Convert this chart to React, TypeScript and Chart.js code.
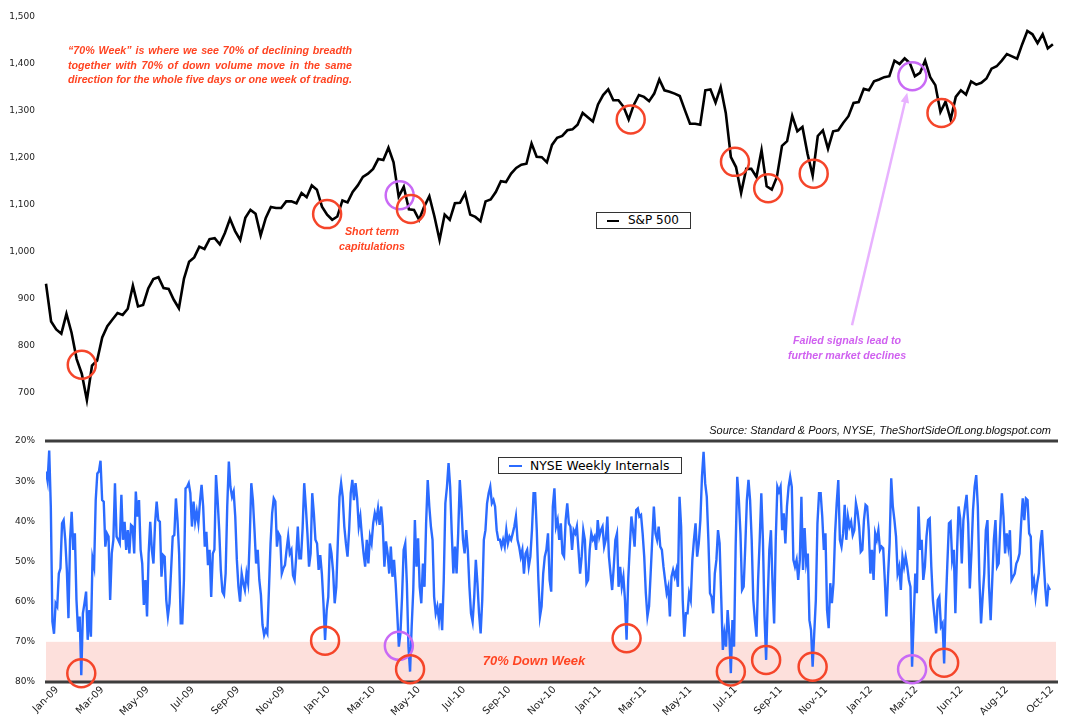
import React, { useEffect, useRef } from "react";
import { Chart, registerables } from "chart.js";

Chart.register(...registerables);

// ---------- DATA ----------
// S&P 500 weekly closes, Jan-09 .. Oct-12
const SP500 = [
  932, 852, 835, 826, 868, 828, 772, 741, 685, 758,
  769, 818, 842, 856, 870, 866, 879, 928, 884, 887,
  922, 942, 946, 923, 921, 898, 880, 943, 979, 988,
  1011, 1006, 1027, 1029, 1016, 1040, 1070, 1044, 1025, 1072,
  1089, 1081, 1035, 1072, 1095, 1093, 1093, 1107, 1107, 1103,
  1125, 1116, 1141, 1132, 1096, 1079, 1068, 1075, 1109, 1105,
  1127, 1141, 1159, 1166, 1176, 1197, 1195, 1221, 1190, 1117,
  1138, 1090, 1089, 1068, 1096, 1118, 1075, 1025, 1079, 1068,
  1103, 1104, 1124, 1079, 1074, 1065, 1107, 1111, 1127, 1150,
  1148, 1166, 1178, 1185, 1187, 1230, 1202, 1201, 1190, 1227,
  1242, 1246, 1258, 1260, 1270, 1295, 1286, 1277, 1313, 1333,
  1345, 1322, 1322, 1308, 1281, 1312, 1333, 1329, 1320, 1336,
  1366, 1343, 1340, 1336, 1331, 1301, 1272, 1272, 1270, 1343,
  1345, 1317, 1350, 1295, 1201, 1180, 1125, 1176, 1176, 1159,
  1216, 1139, 1132, 1159, 1225, 1235, 1289, 1256, 1265, 1208,
  1162, 1246, 1258, 1219, 1256, 1258, 1274, 1288, 1316, 1318,
  1346, 1343, 1362, 1366, 1371, 1373, 1406, 1399, 1411, 1401,
  1373, 1380, 1406, 1371, 1354, 1297, 1319, 1281, 1329, 1343,
  1334, 1362, 1355, 1359, 1368, 1389, 1394, 1406, 1420, 1415,
  1410, 1441, 1469, 1462, 1443, 1462, 1432, 1441,
];

// NYSE weekly internals (% declining), Jan-09 .. Oct-12
const NYSE = [
  27.6, 30.0, 22.4, 36.3, 65.0, 68.0, 60.4, 61.2, 53.0, 51.7,
  40.5, 39.7, 44.6, 52.1, 64.1, 44.6, 37.6, 47.1, 43.0, 59.6,
  67.5, 63.7, 78.3, 62.9, 60.4, 57.5, 69.5, 62.1, 68.7, 49.2,
  51.3, 34.7, 28.1, 27.6, 24.9, 34.7, 35.1, 46.3, 43.0, 43.8,
  59.6, 48.0, 44.6, 30.5, 43.8, 44.6, 45.5, 33.4, 44.6, 40.1,
  47.1, 42.2, 48.0, 40.9, 41.3, 48.0, 32.6, 38.8, 34.7, 47.1,
  50.5, 60.8, 54.6, 63.7, 48.0, 40.1, 47.1, 50.5, 40.5, 35.1,
  39.7, 40.1, 53.8, 48.4, 48.8, 59.6, 63.7, 60.4, 52.1, 43.8,
  43.4, 34.3, 39.7, 48.0, 65.4, 65.4, 54.6, 31.8, 31.4, 30.5,
  33.0, 41.3, 35.1, 40.1, 37.6, 40.5, 35.1, 30.9, 36.3, 46.3,
  42.6, 50.9, 47.1, 58.8, 48.0, 47.1, 28.5, 34.7, 42.2, 52.1,
  57.5, 58.3, 53.0, 36.3, 25.1, 31.4, 33.9, 32.6, 38.8, 49.6,
  56.3, 60.0, 53.0, 55.4, 57.1, 53.0, 55.4, 44.6, 30.5, 34.7,
  42.2, 50.5, 47.1, 54.6, 58.3, 65.8, 68.3, 67.0, 67.9, 57.1,
  45.5, 38.0, 34.3, 35.1, 46.3, 43.0, 43.8, 53.0, 51.7, 50.9,
  47.1, 43.8, 48.0, 47.1, 53.4, 54.6, 48.8, 41.3,
  49.2, 49.2, 41.7, 30.5, 36.3, 43.0, 51.3, 48.0, 33.0, 38.0,
  44.6, 45.5, 52.1, 48.4, 53.0, 60.4, 69.5, 62.1, 58.8, 45.5,
  48.0, 52.5, 60.4, 56.3, 44.6, 33.9, 30.5, 33.9, 41.3, 45.5,
  48.8, 42.2, 33.0, 29.7, 34.7, 30.5, 34.3, 41.3, 38.8, 43.8,
  48.0, 51.3, 44.6, 50.5, 43.8, 45.5, 40.5, 38.0, 39.7, 36.8,
  40.9, 36.3, 41.3, 51.3, 45.0, 48.0, 53.0, 46.3, 53.8, 49.6,
  55.4, 62.9, 71.2, 67.9, 58.8, 47.1, 45.5, 55.4, 71.2, 77.4,
  66.2, 57.1, 39.7, 51.3, 44.2, 56.3, 60.4, 50.5, 56.3, 40.5,
  29.7, 36.3, 41.3, 44.6, 58.8, 62.9, 61.2, 64.6, 60.4, 67.1,
  54.6, 35.5, 31.4, 25.5, 31.4, 43.0, 53.0, 46.3, 53.0, 43.0,
  29.7, 36.3, 44.6, 48.0, 42.2, 47.1, 56.3, 62.9, 65.0, 58.8,
  49.6, 55.4, 62.9, 67.9, 59.6, 44.6, 42.2, 35.5, 33.0, 31.4,
  35.5, 34.7, 36.3, 42.2, 44.6, 44.6, 46.3, 44.6, 46.3, 42.2,
  45.5, 43.8, 44.6, 43.0, 41.3, 38.8, 44.6, 46.3, 48.8, 47.1,
  53.0, 48.0, 47.1, 51.3, 48.8, 42.2, 33.0, 33.0, 42.2, 54.6,
  63.7, 61.2, 53.0, 48.8, 47.1,
  43.0, 54.6, 57.5, 36.3, 31.8, 41.3, 39.7, 44.6, 40.5, 48.0,
  48.8, 39.7, 35.5, 40.5, 41.3, 47.1, 42.2, 43.0, 41.3, 47.1,
  53.0, 48.8, 42.2, 44.6, 55.4, 54.6, 47.1, 43.0, 44.6, 43.8,
  47.1, 39.7, 43.8, 42.2, 41.3, 46.3, 44.6, 38.8, 48.8, 53.0,
  57.1, 51.3, 44.6, 43.0, 56.3, 51.3, 56.3, 53.8, 59.6, 69.5,
  54.6, 46.3, 38.8, 42.2, 46.3, 37.2, 36.8, 38.8, 38.4, 43.0,
  48.8, 57.9, 63.7, 61.2, 53.0, 44.6, 36.3, 43.0, 44.6, 41.3,
  46.3, 47.1, 51.3, 54.6, 57.9, 56.3, 63.7, 53.8, 52.1, 53.8,
  52.1, 56.3, 33.9, 41.3, 59.6, 68.7, 62.9, 62.9, 57.9, 59.6,
  49.6, 44.6, 40.5, 48.8, 45.5, 39.7, 28.9, 22.7, 30.5, 33.9,
  44.6, 57.9, 58.8, 62.9, 53.0, 49.6, 42.2, 45.5, 58.8, 72.0,
  67.9, 71.2, 62.1, 67.9, 77.8, 64.6, 71.2, 46.3, 28.9, 34.7,
  43.0, 57.1, 56.3, 46.3, 34.7, 29.7, 34.7, 44.6, 59.6, 64.6,
  68.7, 54.6, 44.6, 33.0, 44.6, 63.7, 74.5, 59.6, 47.1, 42.2,
  55.4, 65.4, 44.6, 31.4, 32.6, 31.4, 42.2, 38.0, 45.5, 36.3,
  31.4, 28.9, 31.4, 49.6, 51.3, 49.6,
  54.6, 49.6, 33.9, 52.1, 41.7, 50.4, 48.0, 64.6, 67.1, 76.2,
  67.9, 59.6, 40.5, 33.0, 33.0, 38.8, 47.1, 43.0, 62.1, 66.6,
  55.4, 60.4, 55.4, 43.0, 35.5, 29.7, 44.6, 46.3, 43.0, 35.9,
  44.6, 38.8, 41.3, 40.1, 43.4, 42.2, 35.5, 37.6, 41.3, 47.6,
  47.1, 39.7, 35.9, 36.3, 42.2, 53.0, 47.1, 54.6, 43.0, 44.6,
  42.2, 47.1, 46.3, 46.7, 54.6, 63.7, 53.8, 45.5, 29.3, 36.3,
  39.7, 43.8, 53.0, 51.3, 57.1, 48.8, 51.3, 48.8, 51.3, 54.6,
  56.3, 76.2, 64.6, 53.0, 57.9, 36.3, 47.1, 44.6, 54.6, 51.3,
  43.8, 39.7, 39.3, 51.3, 59.6, 63.7, 67.9, 59.6, 58.8, 66.2,
  65.4, 75.4, 61.2, 50.5, 40.5, 40.1, 49.6, 47.1, 62.9, 48.0,
  36.3, 39.3, 50.5, 39.7, 36.3, 33.4, 40.5, 56.7, 48.0, 37.2,
  31.4, 28.5, 36.3, 54.6, 65.4, 58.8, 53.0, 42.2, 39.7, 56.3,
  64.6, 54.6, 44.6, 39.7, 51.3, 50.5, 41.3, 33.0, 38.8, 48.0,
  43.0, 46.3, 42.2, 54.6, 53.8, 53.0, 50.5, 49.6, 48.0, 40.5,
  34.3, 39.7, 34.3, 34.7, 43.0, 43.8, 56.3, 54.6, 58.8, 55.4,
  53.0, 45.5, 42.2, 49.6, 56.3, 61.2, 56.3, 57.1,
];

const X_LABELS = [
  "Jan-09", "Mar-09", "May-09", "Jul-09", "Sep-09", "Nov-09",
  "Jan-10", "Mar-10", "May-10", "Jul-10", "Sep-10", "Nov-10",
  "Jan-11", "Mar-11", "May-11", "Jul-11", "Sep-11", "Nov-11",
  "Jan-12", "Mar-12", "Jun-12", "Aug-12", "Oct-12",
];

const RED = "#f5452a";
const PURPLE = "#c96af5";
const TEXT_RED = "#ff4422";
const TEXT_PURPLE = "#d061f0";

// circles on the S&P chart: week index, index level
const TOP_CIRCLE_WEEK = [7.0, 55.0, 69.2, 71.4, 114.4, 134.8, 141.3, 150.2, 169.5, 175.2];
const TOP_CIRCLE_VALUE = [760, 1080, 1120, 1091, 1281, 1191, 1135, 1166, 1373, 1295];
// circles on the NYSE chart: data index, percent
const BOTTOM_CIRCLE_INDEX = [22, 174, 220, 227, 362, 427, 449, 478, 540, 560];
const BOTTOM_CIRCLE_VALUE = [77.8, 69.7, 71.0, 76.8, 69.1, 77.4, 74.5, 76.2, 76.8, 75.2];
const CIRCLE_COLOR = [RED, RED, PURPLE, RED, RED, RED, RED, RED, PURPLE, RED];

// arrow from the "failed signals" note to the 2012 purple circle (week, level)
const ARROW_FROM = { week: 157.7, value: 844 };
const ARROW_TO = { week: 168.5, value: 1338 };

const AXIS_FONT = { family: "DejaVu Sans", size: 9 };

function drawCircle(ctx: CanvasRenderingContext2D, x: number, y: number, color: string) {
  ctx.save();
  ctx.beginPath();
  ctx.arc(x, y, 14, 0, Math.PI * 2);
  ctx.strokeStyle = color;
  ctx.lineWidth = 2.5;
  ctx.stroke();
  ctx.restore();
}

function TopChart() {
  const ref = useRef<HTMLCanvasElement>(null);
  useEffect(() => {
    if (!ref.current) return;
    const overlay = {
      id: "topOverlay",
      afterDatasetsDraw(chart: any) {
        const { ctx, scales } = chart;
        const xs = scales.x;
        const ys = scales.y;
        TOP_CIRCLE_WEEK.forEach((w, i) => {
          drawCircle(ctx, xs.getPixelForValue(w), ys.getPixelForValue(TOP_CIRCLE_VALUE[i]), CIRCLE_COLOR[i]);
        });
        const x1 = xs.getPixelForValue(ARROW_FROM.week);
        const y1 = ys.getPixelForValue(ARROW_FROM.value);
        const x2 = xs.getPixelForValue(ARROW_TO.week);
        const y2 = ys.getPixelForValue(ARROW_TO.value);
        const ang = Math.atan2(y2 - y1, x2 - x1);
        const head = 11;
        ctx.save();
        ctx.strokeStyle = "#e8b2ff";
        ctx.fillStyle = "#e8b2ff";
        ctx.lineWidth = 2.5;
        ctx.beginPath();
        ctx.moveTo(x1, y1);
        ctx.lineTo(x2 - Math.cos(ang) * head * 0.8, y2 - Math.sin(ang) * head * 0.8);
        ctx.stroke();
        ctx.beginPath();
        ctx.moveTo(x2, y2);
        ctx.lineTo(x2 - head * Math.cos(ang - 0.4), y2 - head * Math.sin(ang - 0.4));
        ctx.lineTo(x2 - head * Math.cos(ang + 0.4), y2 - head * Math.sin(ang + 0.4));
        ctx.closePath();
        ctx.fill();
        ctx.restore();
      },
    };
    const chart = new Chart(ref.current, {
      type: "line",
      data: {
        datasets: [
          {
            label: "S&P 500",
            data: SP500.map((v, i) => ({ x: i, y: v })),
            borderColor: "#000",
            borderWidth: 2.6,
            pointRadius: 0,
            tension: 0,
            clip: false,
          },
        ],
      },
      options: {
        animation: false,
        responsive: true,
        maintainAspectRatio: false,
        layout: { padding: { top: 10, bottom: 17, right: 9, left: 0 } },
        plugins: { legend: { display: false }, tooltip: { enabled: false } },
        scales: {
          x: { type: "linear", min: 0, max: 198, display: false },
          y: {
            min: 700,
            max: 1500,
            ticks: {
              stepSize: 100,
              padding: 11,
              color: "#222",
              font: AXIS_FONT,
              callback: (v: any) => Number(v).toLocaleString("en-US"),
            },
            grid: { display: false, drawTicks: false },
            border: { display: false },
            afterFit: (s: any) => {
              s.width = 46;
            },
          },
        },
      },
      plugins: [overlay],
    } as any);
    return () => chart.destroy();
  }, []);
  return <canvas ref={ref} />;
}

function BottomChart() {
  const ref = useRef<HTMLCanvasElement>(null);
  useEffect(() => {
    if (!ref.current) return;
    const overlay = {
      id: "bottomOverlay",
      beforeDatasetsDraw(chart: any) {
        const { ctx, chartArea, scales } = chart;
        const y70 = scales.y.getPixelForValue(70);
        const y80 = scales.y.getPixelForValue(80);
        ctx.save();
        ctx.fillStyle = "#fde0dc";
        ctx.fillRect(chartArea.left, y70, chartArea.right - chartArea.left - 2, y80 - y70);
        ctx.restore();
      },
      afterDatasetsDraw(chart: any) {
        const { ctx, chartArea, scales } = chart;
        ctx.save();
        ctx.strokeStyle = "#3d3d3d";
        ctx.lineWidth = 3;
        [20, 80].forEach((v) => {
          const y = scales.y.getPixelForValue(v);
          ctx.beginPath();
          ctx.moveTo(chartArea.left - 1, y);
          ctx.lineTo(chartArea.right, y);
          ctx.stroke();
        });
        ctx.restore();
        BOTTOM_CIRCLE_INDEX.forEach((idx, i) => {
          drawCircle(
            ctx,
            scales.x.getPixelForValue(idx),
            scales.y.getPixelForValue(BOTTOM_CIRCLE_VALUE[i]),
            CIRCLE_COLOR[i]
          );
        });
      },
    };
    const xMax = ((NYSE.length - 1) * 1012) / 1004;
    const chart = new Chart(ref.current, {
      type: "line",
      data: {
        datasets: [
          {
            label: "NYSE Weekly Internals",
            data: NYSE.map((v, i) => ({ x: i, y: v })),
            borderColor: "#2b6bff",
            borderWidth: 2.4,
            pointRadius: 0,
            tension: 0,
          },
        ],
      },
      options: {
        animation: false,
        responsive: true,
        maintainAspectRatio: false,
        layout: { padding: { top: 21, bottom: 0, right: 9, left: 0 } },
        plugins: { legend: { display: false }, tooltip: { enabled: false } },
        scales: {
          x: {
            type: "linear",
            min: 0,
            max: xMax,
            afterBuildTicks: (s: any) => {
              const step = (NYSE.length - 1) / 22.2;
              s.ticks = X_LABELS.map((_, k) => ({ value: 7 + k * step }));
            },
            ticks: {
              autoSkip: false,
              maxRotation: 45,
              minRotation: 45,
              padding: 2,
              color: "#222",
              font: { family: "DejaVu Sans", size: 10 },
              callback: (_v: any, index: number) => X_LABELS[index],
            },
            grid: { display: false, drawTicks: false },
            border: { display: false },
            afterFit: (s: any) => {
              s.height = 44;
            },
          },
          y: {
            min: 20,
            max: 80,
            reverse: true,
            ticks: {
              stepSize: 10,
              padding: 11,
              color: "#222",
              font: AXIS_FONT,
              callback: (v: any) => v + "%",
            },
            grid: { display: false, drawTicks: false },
            border: { display: false },
            afterFit: (s: any) => {
              s.width = 46;
            },
          },
        },
      },
      plugins: [overlay],
    } as any);
    return () => chart.destroy();
  }, []);
  return <canvas ref={ref} />;
}

const noteFont: React.CSSProperties = {
  fontFamily: '"Liberation Sans", Arial, sans-serif',
  fontStyle: "italic",
  fontWeight: "bold",
  fontSize: "10.7px",
  lineHeight: "14.5px",
  position: "absolute",
  whiteSpace: "nowrap",
};

export default function App() {
  return (
    <div
      style={{
        position: "fixed",
        left: 0,
        top: 0,
        width: 1067,
        height: 726,
        background: "#fff",
        overflow: "hidden",
      }}
    >
      <div style={{ position: "absolute", left: 0, top: 0, width: 1067, height: 410 }}>
        <TopChart />
      </div>
      <div style={{ position: "absolute", left: 0, top: 420, width: 1067, height: 306 }}>
        <BottomChart />
      </div>

      {/* explanatory note */}
      <div style={{ ...noteFont, left: 68, top: 43, width: 284, color: TEXT_RED, whiteSpace: "normal" }}>
        {[
          "\u201C70% Week\u201D is where we see 70% of declining breadth",
          "together with 70% of down volume move in the same",
          "direction for the whole five days or one week of trading.",
        ].map((t, i) => (
          <div key={i} style={{ textAlign: "justify", textAlignLast: "justify" } as any}>
            {t}
          </div>
        ))}
      </div>

      <div style={{ ...noteFont, left: 322, top: 224, width: 100, textAlign: "center", color: TEXT_RED }}>
        <div>Short term</div>
        <div>capitulations</div>
      </div>

      <div style={{ ...noteFont, left: 777, top: 333, width: 140, textAlign: "center", color: TEXT_PURPLE }}>
        <div>Failed signals lead to</div>
        <div>further market declines</div>
      </div>

      <div
        style={{
          ...noteFont,
          left: 464,
          top: 652,
          width: 140,
          textAlign: "center",
          fontSize: "13px",
          lineHeight: "17px",
          color: TEXT_RED,
        }}
      >
        70% Down Week
      </div>

      <div
        style={{
          position: "absolute",
          right: 1067 - 1051,
          top: 423,
          fontFamily: '"Liberation Sans", Arial, sans-serif',
          fontStyle: "italic",
          fontSize: "11px",
          lineHeight: "14px",
          color: "#111",
          whiteSpace: "nowrap",
        }}
      >
        Source: Standard &amp; Poors, NYSE, TheShortSideOfLong.blogspot.com
      </div>

      {/* legends */}
      <div
        style={{
          position: "absolute",
          left: 596,
          top: 212,
          width: 93,
          height: 15,
          border: "1px solid #333",
          background: "#fff",
        }}
      >
        <div style={{ position: "absolute", left: 10, top: 6.5, width: 12, height: 2.5, background: "#000" }} />
        <div
          style={{
            position: "absolute",
            left: 31,
            top: 0,
            fontFamily: '"DejaVu Sans", sans-serif',
            fontSize: "12px",
            lineHeight: "15px",
            color: "#000",
            whiteSpace: "nowrap",
          }}
        >
          S&amp;P 500
        </div>
      </div>

      <div
        style={{
          position: "absolute",
          left: 498,
          top: 457,
          width: 182,
          height: 15,
          border: "1px solid #333",
          background: "#fff",
        }}
      >
        <div style={{ position: "absolute", left: 10, top: 6.5, width: 13, height: 2.5, background: "#2b6bff" }} />
        <div
          style={{
            position: "absolute",
            left: 31,
            top: 0,
            fontFamily: '"DejaVu Sans", sans-serif',
            fontSize: "12.4px",
            lineHeight: "15px",
            color: "#000",
            whiteSpace: "nowrap",
          }}
        >
          NYSE Weekly Internals
        </div>
      </div>
    </div>
  );
}
